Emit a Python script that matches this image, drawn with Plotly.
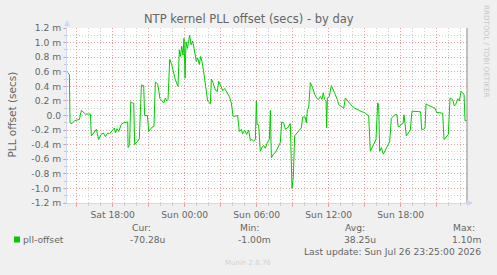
import pandas as pd
import plotly.graph_objects as go

# ---- data (hours since Sat 2026-07-25 00:00, offset in milliseconds) ----
hours = [14.25, 14.39, 14.44, 14.61, 14.83, 15.03, 15.22, 15.39, 15.55, 15.72, 16.14, 16.22, 16.41, 16.64,
         16.83, 17.03, 17.22, 17.39, 17.58, 17.75, 17.94, 18.14, 18.22, 18.36, 18.50, 18.72, 18.91, 19.14,
         19.25, 19.28, 19.41, 19.50, 19.64, 19.75, 19.83, 20.03, 20.22, 20.39, 20.58, 20.66, 20.89, 21.00,
         21.14, 21.28, 21.44, 21.55, 21.75, 21.83, 21.94, 22.11, 22.25, 22.39, 22.50, 22.61, 22.75, 22.91,
         23.08, 23.22, 23.44, 23.55, 23.64, 23.75, 23.86, 23.94, 24.03, 24.11, 24.22, 24.33, 24.41, 24.53,
         24.66, 24.78, 24.89, 24.97, 25.08, 25.22, 25.33, 25.44, 25.58, 25.72, 25.91, 26.14, 26.22, 26.36,
         26.55, 26.72, 26.83, 27.03, 27.16, 27.33, 27.53, 27.72, 27.89, 28.03, 28.22, 28.41, 28.55, 28.72,
         28.83, 29.00, 29.16, 29.33, 29.47, 29.61, 29.75, 29.89, 29.97, 30.03, 30.16, 30.30, 30.44, 30.58,
         30.72, 30.89, 31.05, 31.14, 31.22, 31.39, 31.55, 31.69, 31.83, 31.97, 32.08, 32.25, 32.39, 32.58,
         32.80, 32.94, 33.05, 33.16, 33.36, 33.55, 33.72, 33.83, 34.03, 34.14, 34.22, 34.33, 34.47, 34.66,
         34.83, 35.03, 35.16, 35.30, 35.44, 35.55, 35.66, 35.78, 35.83, 35.89, 36.05, 36.22, 36.39, 36.55,
         36.72, 36.83, 37.00, 37.16, 37.25, 37.39, 37.61, 37.80, 37.94, 38.16, 38.36, 38.55, 38.78, 39.00,
         39.19, 39.33, 39.47, 39.66, 39.83, 39.94, 40.08, 40.16, 40.25, 40.39, 40.55, 40.72, 40.91, 41.08,
         41.22, 41.33, 41.50, 41.69, 41.78, 41.91, 42.05, 42.19, 42.28, 42.47, 42.61, 42.80, 42.94, 43.19,
         43.47, 43.66, 43.75, 43.89, 44.03, 44.11, 44.30, 44.50, 44.72, 44.86, 45.00, 45.22, 45.50, 45.61,
         45.78, 45.97, 46.11, 46.33, 46.47, 46.58, 46.75, 46.89, 47.03, 47.17, 47.28, 47.36, 47.50]

offset_ms = [0.59, 0.56, -0.10, -0.11, -0.07, -0.06, -0.055, 0.07, 0.05, 0.02, 0.02, -0.28, -0.24, -0.19,
             -0.33, -0.26, -0.24, -0.29, -0.24, -0.25, -0.21, -0.17, -0.24, -0.18, -0.22, -0.12, -0.10, -0.09,
             -0.09, -0.44, -0.40, 0.19, 0.17, 0.17, -0.40, -0.36, -0.32, 0.42, 0.41, 0.0, 0.0, -0.22,
             -0.19, -0.16, -0.15, 0.46, 0.43, 0.33, 0.23, 0.20, 0.17, 0.24, 0.20, 0.22, 0.77, 0.70,
             0.58, 0.49, 0.40, 0.90, 0.81, 0.95, 0.83, 1.06, 0.51, 1.01, 0.92, 1.04, 1.10, 0.97,
             1.02, 0.92, 0.83, 0.74, 0.79, 0.70, 0.81, 0.74, 0.60, 0.45, 0.20, 0.16, 0.50, 0.45,
             0.35, 0.33, 0.47, 0.40, 0.34, 0.37, 0.31, 0.26, 0.17, -0.01, -0.01, 0.0, -0.22, -0.19,
             -0.25, -0.20, -0.26, -0.20, -0.34, -0.33, -0.35, -0.33, 0.20, -0.12, -0.13, -0.49, -0.44, -0.41,
             -0.45, -0.37, -0.33, 0.07, -0.58, -0.53, -0.51, -0.46, -0.42, -0.37, -0.09, -0.10, -0.19, -0.17,
             -0.11, -1.00, -0.85, -0.28, -0.24, -0.20, -0.17, -0.02, -0.02, -0.10, 0.08, 0.10, 0.45, 0.38,
             0.29, 0.23, 0.22, 0.26, 0.22, 0.31, 0.22, 0.20, -0.17, 0.24, 0.26, 0.41, 0.35, 0.29,
             0.22, 0.15, 0.13, 0.11, 0.10, 0.24, 0.20, 0.15, 0.13, 0.10, 0.08, 0.07, 0.05, 0.04,
             0.01, 0.0, -0.49, -0.42, -0.37, -0.33, 0.17, 0.16, -0.49, -0.44, -0.53, -0.48, -0.42, -0.36,
             -0.04, -0.02, 0.01, 0.01, -0.15, -0.15, -0.12, -0.11, 0.01, -0.28, -0.25, -0.20, 0.06, 0.06,
             0.05, 0.05, -0.19, -0.19, -0.17, 0.16, 0.14, 0.13, 0.11, 0.10, 0.04, 0.04, 0.03, -0.33,
             -0.30, -0.26, 0.24, 0.22, 0.13, 0.15, 0.23, 0.20, 0.33, 0.31, 0.29, -0.07, -0.07]

y_tick_vals = [-1.2, -1.0, -0.8, -0.6, -0.4, -0.2, 0.0, 0.2, 0.4, 0.6, 0.8, 1.0, 1.2]
y_tick_text = ["-1.2 m", "-1.0 m", "-0.8 m", "-0.6 m", "-0.4 m", "-0.2 m", "0.0",
               "0.2 m", "0.4 m", "0.6 m", "0.8 m", "1.0 m", "1.2 m"]

title = "NTP kernel PLL offset (secs) - by day"
y_title = "PLL offset (secs)"
series_name = "pll-offset"
legend_heads = ["Cur:", "Min:", "Avg:", "Max:"]
legend_vals = ["-70.28u", "-1.00m", "38.25u", "1.10m"]
last_update = "Last update: Sun Jul 26 23:25:00 2026"
credit = "RRDTOOL / TOBI OETIKER"
munin = "Munin 2.0.76"

base = pd.Timestamp("2026-07-25 00:00")
times = base + pd.to_timedelta(hours, unit="h")
x_start = base + pd.Timedelta(hours=14.19)
x_end = base + pd.Timedelta(hours=47.525)

major = pd.date_range(base + pd.Timedelta(hours=15), base + pd.Timedelta(hours=45), freq="3h")
major_text = [t.strftime("%a %H:%M") if t.hour % 6 == 0 else "" for t in major]

FONT = "DejaVu Sans"
FC = "#666666"
MGRID = "rgba(240,120,120,0.55)"
GRID = "rgba(150,150,150,0.45)"
AXIS = "#CFD6F8"

W, H = 497, 275
L, R, T, B = 67, 467, 28, 203


def px(x):
    return (x - L) / (R - L)


def py(y):
    return (B - y) / (B - T)


fig = go.Figure()
fig.add_trace(go.Scatter(x=times, y=offset_ms, mode="lines",
                         line=dict(color="#00cc00", width=1), hoverinfo="skip"))

fig.update_layout(
    width=W, height=H,
    margin=dict(l=L, r=W - R, t=T, b=H - B, pad=0),
    paper_bgcolor="#F0F0F0", plot_bgcolor="#FFFFFF",
    showlegend=False,
    font=dict(family=FONT, size=9.2, color=FC),
)

fig.update_xaxes(
    type="date", range=[x_start, x_end],
    tickmode="array", tickvals=major, ticktext=major_text,
    showgrid=True, gridcolor=MGRID, griddash="1px,2px", gridwidth=1,
    ticks="outside", ticklen=3, tickcolor=MGRID, tickfont=dict(size=9.2, color=FC),
    showline=True, linecolor=AXIS, linewidth=1, zeroline=False,
    minor=dict(tickmode="linear", tick0=base, dtick=3600000, showgrid=True,
               gridcolor=GRID, griddash="1px,2px", gridwidth=1,
               ticks="outside", ticklen=2, tickcolor=GRID),
    fixedrange=True,
)
fig.update_yaxes(
    range=[-1.2, 1.2],
    tickmode="array", tickvals=y_tick_vals, ticktext=y_tick_text,
    showgrid=True, gridcolor=MGRID, griddash="1px,2px", gridwidth=1,
    ticks="outside", ticklen=3, tickcolor=MGRID, tickfont=dict(size=9.2, color=FC),
    showline=True, linecolor=AXIS, linewidth=1, zeroline=False,
    minor=dict(tickmode="linear", tick0=0, dtick=0.1, showgrid=True,
               gridcolor=GRID, griddash="1px,2px", gridwidth=1,
               ticks="outside", ticklen=2, tickcolor=GRID),
    fixedrange=True,
)

# right frame line
fig.add_shape(type="line", xref="paper", yref="paper", x0=1, x1=1, y0=0, y1=1,
              line=dict(color="#8a8a8a", width=1))

ann = []
# title
ann.append(dict(text=title, x=px(248.5), y=py(19), xanchor="center", yanchor="middle",
                font=dict(size=11.5, color=FC)))
# y title
ann.append(dict(text=y_title, x=px(11.5), y=py(114), xanchor="center", yanchor="middle",
                textangle=-90, font=dict(size=10.5, color=FC)))
# credit
ann.append(dict(text=credit, x=px(487), y=py(51), xanchor="center", yanchor="middle",
                textangle=90, font=dict(size=7.2, color="#C8C8C8")))
# legend heads and values (right aligned)
head_right = [152.7, 260.7, 367.3, 476.7]
val_right = [166.7, 272.7, 377.7, 482.7]
for h, v, hx, vx in zip(legend_heads, legend_vals, head_right, val_right):
    ann.append(dict(text=h, x=px(hx), y=py(227), xanchor="right", yanchor="middle",
                    font=dict(size=9.2, color=FC)))
    ann.append(dict(text=v, x=px(vx), y=py(239), xanchor="right", yanchor="middle",
                    font=dict(size=9.2, color=FC)))
# series label with swatch
ann.append(dict(text=series_name, x=px(20.5), y=py(239), xanchor="left", yanchor="middle",
                font=dict(size=9.2, color=FC)))
ann.append(dict(text=last_update, x=px(482.5), y=py(251), xanchor="right", yanchor="middle",
                font=dict(size=9.2, color=FC)))
ann.append(dict(text=munin, x=px(248), y=py(263), xanchor="center", yanchor="middle",
                font=dict(size=7, color="#D0D0D0")))
# axis arrows
ann.append(dict(text="", x=px(67), y=py(20), ax=0, ay=9, showarrow=True,
                arrowhead=2, arrowsize=1.2, arrowwidth=1, arrowcolor=AXIS))
ann.append(dict(text="", x=px(473), y=py(203), ax=-9, ay=0, showarrow=True,
                arrowhead=2, arrowsize=1.2, arrowwidth=1, arrowcolor=AXIS))
for a in ann:
    a.setdefault("xref", "paper")
    a.setdefault("yref", "paper")
    a.setdefault("showarrow", False)
fig.update_layout(annotations=ann)

fig.add_shape(type="rect", xref="paper", yref="paper",
              x0=px(14), x1=px(20), y0=py(242.5), y1=py(236.5),
              fillcolor="#00cc00", line=dict(width=0))

fig.write_html("out.html")
